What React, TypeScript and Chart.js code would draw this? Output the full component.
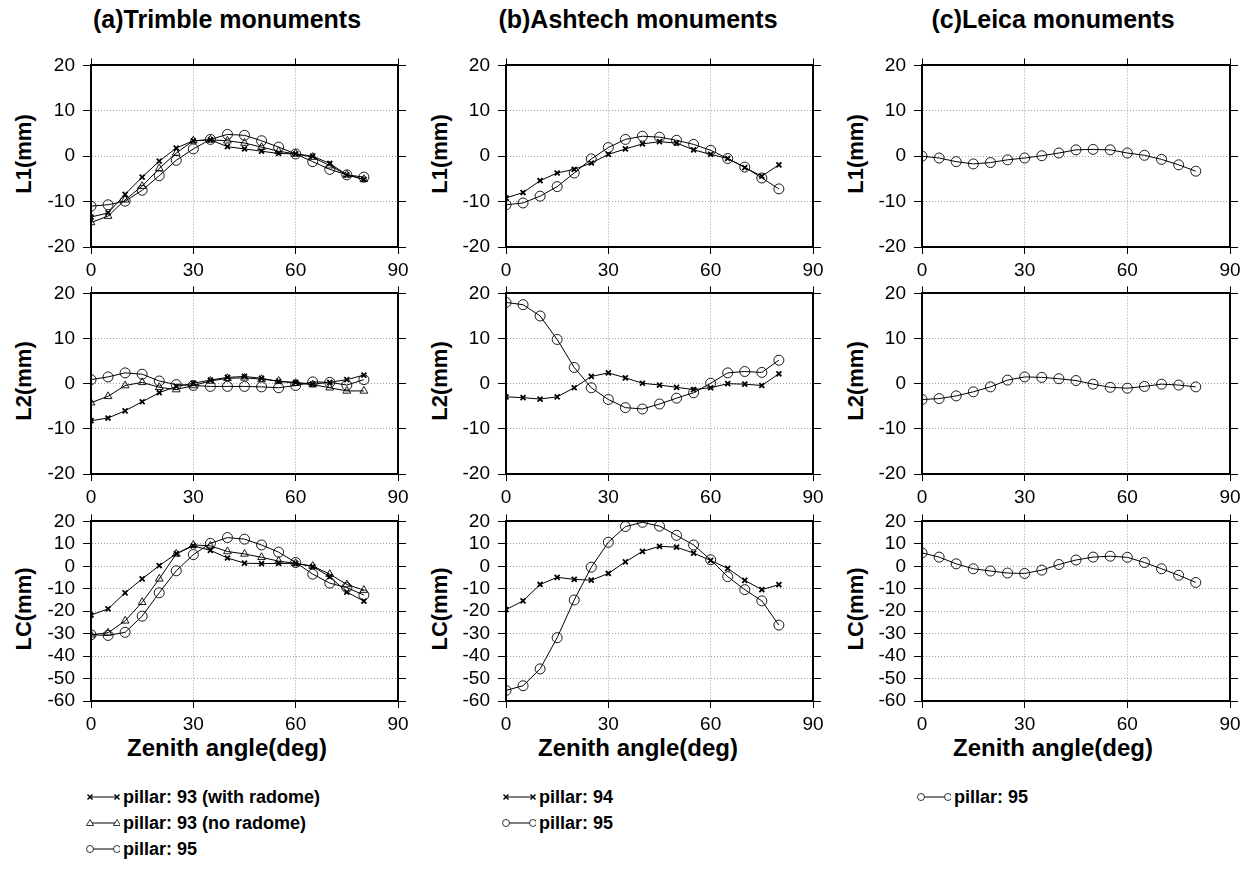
import React, { useEffect, useRef } from "react";
import { Chart, registerables } from "chart.js";

Chart.register(...registerables);

// ---------------- data ----------------
const zenith = [0, 5, 10, 15, 20, 25, 30, 35, 40, 45, 50, 55, 60, 65, 70, 75, 80];
const xTicks = [0, 30, 60, 90];
const l1l2Ticks = [-20, -10, 0, 10, 20];
const lcTicks = [-60, -50, -40, -30, -20, -10, 0, 10, 20];

// (a) Trimble monuments
const trimbleL1_93radome = [-13.4, -12.5, -8.4, -4.6, -1.1, 1.8, 3.4, 3.6, 2.1, 1.6, 1.1, 0.6, 0.5, 0.0, -1.6, -4.1, -5.1];
const trimbleL1_93noRadome = [-14.6, -13.2, -9.6, -6.6, -2.7, 0.7, 3.4, 3.6, 3.4, 2.9, 2.0, 1.1, 0.5, -0.2, -2.1, -4.1, -5.1];
const trimbleL1_95 = [-11.0, -10.7, -9.9, -7.5, -4.3, -0.9, 1.6, 3.7, 4.8, 4.6, 3.4, 2.0, 0.5, -1.2, -2.9, -4.1, -4.6];

const trimbleL2_93radome = [-8.2, -7.6, -6.0, -4.0, -2.0, -0.6, 0.1, 0.8, 1.4, 1.6, 1.2, 0.5, 0.3, -0.1, 0.3, 0.9, 1.9];
const trimbleL2_93noRadome = [-4.2, -2.8, -0.4, 0.3, -0.8, -1.3, -0.4, 0.6, 1.2, 1.3, 1.0, 0.6, 0.1, -0.2, -0.9, -1.6, -1.6];
const trimbleL2_95 = [0.9, 1.5, 2.4, 2.1, 0.6, -0.2, -0.4, -0.6, -0.6, -0.6, -0.7, -0.9, -0.4, 0.4, 0.3, -0.3, 0.9];

const trimbleLC_93radome = [-21.7, -19.0, -11.8, -5.6, 0.3, 5.6, 9.1, 7.1, 3.7, 1.4, 1.2, 1.3, 1.3, -0.1, -4.6, -11.5, -15.5];
const trimbleLC_93noRadome = [-30.5, -29.6, -24.3, -16.0, -5.6, 5.5, 9.5, 9.1, 6.6, 5.5, 4.0, 2.3, 1.3, 0.1, -3.5, -8.1, -10.6];
const trimbleLC_95 = [-30.5, -30.8, -29.4, -22.2, -11.8, -2.0, 5.2, 10.2, 12.8, 12.1, 9.5, 6.3, 1.7, -3.5, -7.5, -9.5, -12.8];

// (b) Ashtech monuments
const ashtechL1_94 = [-9.2, -8.0, -5.4, -3.7, -2.9, -1.5, 0.4, 1.6, 2.7, 3.2, 2.9, 1.4, 0.4, -0.5, -2.5, -4.4, -1.9];
const ashtechL1_95 = [-10.7, -10.3, -8.8, -6.7, -3.7, -0.6, 1.9, 3.7, 4.4, 4.2, 3.5, 2.6, 1.3, -0.5, -2.4, -4.8, -7.2];

const ashtechL2_94 = [-2.9, -3.1, -3.4, -2.9, -0.9, 1.6, 2.4, 1.3, 0.1, -0.3, -0.8, -1.3, -0.9, 0.0, -0.1, -0.4, 2.2];
const ashtechL2_95 = [18.0, 17.5, 15.0, 9.8, 3.6, -0.9, -3.5, -5.3, -5.6, -4.5, -3.2, -2.0, 0.1, 2.4, 2.7, 2.5, 5.2];

const ashtechLC_94 = [-19.3, -15.4, -8.1, -4.9, -5.8, -6.2, -3.2, 2.0, 6.6, 8.9, 8.5, 5.9, 2.6, -0.9, -6.3, -10.4, -8.2];
const ashtechLC_95 = [-55.3, -53.2, -45.7, -31.8, -15.0, -0.4, 10.7, 17.7, 19.6, 17.9, 13.8, 9.5, 2.9, -4.6, -10.4, -15.4, -26.2];

// (c) Leica monuments
const leicaL1_95 = [0.0, -0.4, -1.2, -1.7, -1.4, -0.8, -0.4, 0.1, 0.7, 1.4, 1.5, 1.4, 0.7, 0.2, -0.7, -1.9, -3.3];
const leicaL2_95 = [-3.5, -3.3, -2.7, -1.8, -0.7, 0.8, 1.5, 1.4, 1.1, 0.7, -0.1, -0.8, -1.0, -0.6, -0.1, -0.3, -0.7];
const leicaLC_95 = [6.0, 4.1, 1.1, -1.1, -2.1, -3.0, -3.2, -1.7, 0.8, 2.8, 4.1, 4.5, 4.0, 1.7, -1.1, -4.0, -7.2];

const columnTitles = ["(a)Trimble monuments", "(b)Ashtech monuments", "(c)Leica monuments"];
const rowLabels = ["L1(mm)", "L2(mm)", "LC(mm)"];
const rowTicks = [l1l2Ticks, l1l2Ticks, lcTicks];
const xTitle = "Zenith angle(deg)";

const legendA = ["pillar: 93 (with radome)", "pillar: 93 (no radome)", "pillar: 95"];
const legendB = ["pillar: 94", "pillar: 95"];
const legendC = ["pillar: 95"];

// ---------------- layout ----------------
const FONT = "'Liberation Sans', Arial, Helvetica, sans-serif";
const colLeft = [91, 506, 922];
const colWidth = [307, 307, 308];
const rowTop = [60, 288, 516];
const rowHeight = [187, 186, 185];
const yLabelX = [24, 440, 856];
const textCenterX = [227, 638, 1053];

const YW = 60;
const TOPH = 14;
const RIGHTW = 16;
const XH = 40;

type Marker = "crossRot" | "triangle" | "circle";
type Series = { values: number[]; marker: Marker };

const markerSize: Record<Marker, number> = { crossRot: 3.5, triangle: 4.5, circle: 5 };
const markerWidth: Record<Marker, number> = { crossRot: 1.8, triangle: 0.9, circle: 0.9 };

const panels: { col: number; row: number; series: Series[] }[] = [
  { col: 0, row: 0, series: [
    { values: trimbleL1_93radome, marker: "crossRot" },
    { values: trimbleL1_93noRadome, marker: "triangle" },
    { values: trimbleL1_95, marker: "circle" } ] },
  { col: 0, row: 1, series: [
    { values: trimbleL2_93radome, marker: "crossRot" },
    { values: trimbleL2_93noRadome, marker: "triangle" },
    { values: trimbleL2_95, marker: "circle" } ] },
  { col: 0, row: 2, series: [
    { values: trimbleLC_93radome, marker: "crossRot" },
    { values: trimbleLC_93noRadome, marker: "triangle" },
    { values: trimbleLC_95, marker: "circle" } ] },
  { col: 1, row: 0, series: [
    { values: ashtechL1_94, marker: "crossRot" },
    { values: ashtechL1_95, marker: "circle" } ] },
  { col: 1, row: 1, series: [
    { values: ashtechL2_94, marker: "crossRot" },
    { values: ashtechL2_95, marker: "circle" } ] },
  { col: 1, row: 2, series: [
    { values: ashtechLC_94, marker: "crossRot" },
    { values: ashtechLC_95, marker: "circle" } ] },
  { col: 2, row: 0, series: [{ values: leicaL1_95, marker: "circle" }] },
  { col: 2, row: 1, series: [{ values: leicaL2_95, marker: "circle" }] },
  { col: 2, row: 2, series: [{ values: leicaLC_95, marker: "circle" }] },
];

function Panel({ col, row, series }: { col: number; row: number; series: Series[] }) {
  const ref = useRef<HTMLCanvasElement | null>(null);
  const width = colWidth[col];
  const height = rowHeight[row];
  const cw = width + YW + RIGHTW;
  const ch = height + TOPH + XH;
  const yt = rowTicks[row];
  const ymin = yt[0];
  const ymax = yt[yt.length - 1];

  useEffect(() => {
    if (!ref.current) return;
    const tickFont = { family: FONT, size: 19 };
    const gridDash = [1, 2];
    const setX = (s: any) => { s.ticks = xTicks.map((v) => ({ value: v })); };
    const setY = (s: any) => { s.ticks = yt.map((v) => ({ value: v })); };
    const chart = new Chart(ref.current, {
      type: "line",
      data: {
        datasets: series.map((s) => ({
          data: zenith.map((x, i) => ({ x, y: s.values[i] })),
          borderColor: "#000",
          borderWidth: 1,
          pointStyle: s.marker,
          pointRadius: markerSize[s.marker],
          pointBorderWidth: markerWidth[s.marker],
          pointBorderColor: "#000",
          pointBackgroundColor: "rgba(255,255,255,0)",
          tension: 0,
          fill: false,
          xAxisID: "x",
          yAxisID: "y",
        })),
      },
      options: {
        animation: false,
        responsive: false,
        devicePixelRatio: 1,
        events: [],
        layout: { padding: { top: 6, right: 8, left: 0, bottom: 0 } },
        plugins: { legend: { display: false }, tooltip: { enabled: false }, title: { display: false } },
        scales: {
          x: {
            type: "linear", axis: "x", position: "bottom", min: 0, max: 90,
            afterBuildTicks: setX,
            ticks: { font: tickFont, color: "#000", padding: 5, maxRotation: 0, autoSkip: false },
            grid: { color: "#a0a0a0", lineWidth: 1, tickLength: 7, tickColor: "#000", tickWidth: 1 },
            border: { display: true, color: "#000", width: 2, dash: gridDash },
            afterFit: (s: any) => { s.height = XH; },
          },
          xTop: {
            type: "linear", axis: "x", position: "top", min: 0, max: 90,
            afterBuildTicks: setX,
            ticks: { display: false, autoSkip: false },
            grid: { drawOnChartArea: false, tickLength: 7, tickColor: "#000", tickWidth: 1 },
            border: { display: true, color: "#000", width: 2 },
            afterFit: (s: any) => { s.height = 8; },
          },
          y: {
            type: "linear", axis: "y", position: "left", min: ymin, max: ymax,
            afterBuildTicks: setY,
            ticks: { font: tickFont, color: "#000", padding: 8, autoSkip: false },
            grid: { color: "#a0a0a0", lineWidth: 1, tickLength: 8, tickColor: "#000", tickWidth: 1 },
            border: { display: true, color: "#000", width: 2, dash: gridDash },
            afterFit: (s: any) => { s.width = YW; },
          },
          yRight: {
            type: "linear", axis: "y", position: "right", min: ymin, max: ymax,
            afterBuildTicks: setY,
            ticks: { display: false, autoSkip: false },
            grid: { drawOnChartArea: false, tickLength: 8, tickColor: "#000", tickWidth: 1 },
            border: { display: true, color: "#000", width: 2 },
            afterFit: (s: any) => { s.width = 8; },
          },
        },
      } as any,
    });
    return () => chart.destroy();
  }, []);

  return (
    <canvas
      ref={ref}
      width={cw}
      height={ch}
      style={{ position: "absolute", left: colLeft[col] - YW, top: rowTop[row] - TOPH, width: cw, height: ch }}
    />
  );
}

function MarkerSvg({ kind, cx, cy }: { kind: Marker; cx: number; cy: number }) {
  if (kind === "crossRot") {
    return (
      <g stroke="#000" strokeWidth={1.4}>
        <line x1={cx - 2.5} y1={cy - 2.5} x2={cx + 2.5} y2={cy + 2.5} />
        <line x1={cx - 2.5} y1={cy + 2.5} x2={cx + 2.5} y2={cy - 2.5} />
      </g>
    );
  }
  if (kind === "triangle") {
    return <polygon points={`${cx},${cy - 3.5} ${cx - 3.5},${cy + 2.5} ${cx + 3.5},${cy + 2.5}`} fill="#fff" stroke="#000" strokeWidth={0.8} />;
  }
  return <circle cx={cx} cy={cy} r={3.5} fill="#fff" stroke="#000" strokeWidth={0.8} />;
}

function LegendRow({ left, top, kind, label }: { left: number; top: number; kind: Marker; label: string }) {
  return (
    <div style={{ position: "absolute", left, top, height: 20, display: "flex", alignItems: "center", whiteSpace: "nowrap" }}>
      <svg width={34} height={14} style={{ display: "block", flexShrink: 0 }}>
        <line x1={4} y1={7} x2={31} y2={7} stroke="#000" strokeWidth={1} />
        <MarkerSvg kind={kind} cx={4} cy={7} />
        <MarkerSvg kind={kind} cx={31} cy={7} />
      </svg>
      <span style={{ fontFamily: FONT, fontWeight: "bold", fontSize: 18, marginLeft: 3, lineHeight: "20px" }}>{label}</span>
    </div>
  );
}

export default function App() {
  const legendMarkersA: Marker[] = ["crossRot", "triangle", "circle"];
  const legendMarkersB: Marker[] = ["crossRot", "circle"];
  const legendMarkersC: Marker[] = ["circle"];
  const legendRowsTop = [787, 813, 839];
  return (
    <div style={{ position: "absolute", left: 0, top: 0, width: 1252, height: 870, background: "#fff", overflow: "hidden" }}>
      {columnTitles.map((t, c) => (
        <div key={"t" + c} style={{ position: "absolute", left: textCenterX[c] - 200, width: 400, top: 5, textAlign: "center", fontFamily: FONT, fontWeight: "bold", fontSize: 25, lineHeight: "28px", whiteSpace: "nowrap" }}>{t}</div>
      ))}
      {[0, 1, 2].map((c) =>
        rowLabels.map((lab, r) => (
          <div key={"yl" + c + r} style={{ position: "absolute", left: yLabelX[c] - 60, top: rowTop[r] + rowHeight[r] / 2 - 12, width: 120, height: 24, textAlign: "center", transform: "rotate(-90deg)", fontFamily: FONT, fontWeight: "bold", fontSize: 22, lineHeight: "24px", whiteSpace: "nowrap" }}>{lab}</div>
        ))
      )}
      {[0, 1, 2].map((c) => (
        <div key={"xt" + c} style={{ position: "absolute", left: textCenterX[c] - 200, width: 400, top: 736, textAlign: "center", fontFamily: FONT, fontWeight: "bold", fontSize: 24, lineHeight: "24px", whiteSpace: "nowrap" }}>{xTitle}</div>
      ))}
      {panels.map((p, i) => (
        <Panel key={i} col={p.col} row={p.row} series={p.series} />
      ))}
      {legendA.map((l, i) => (
        <LegendRow key={"la" + i} left={86} top={legendRowsTop[i]} kind={legendMarkersA[i]} label={l} />
      ))}
      {legendB.map((l, i) => (
        <LegendRow key={"lb" + i} left={502} top={legendRowsTop[i]} kind={legendMarkersB[i]} label={l} />
      ))}
      {legendC.map((l, i) => (
        <LegendRow key={"lc" + i} left={917} top={legendRowsTop[i]} kind={legendMarkersC[i]} label={l} />
      ))}
    </div>
  );
}
